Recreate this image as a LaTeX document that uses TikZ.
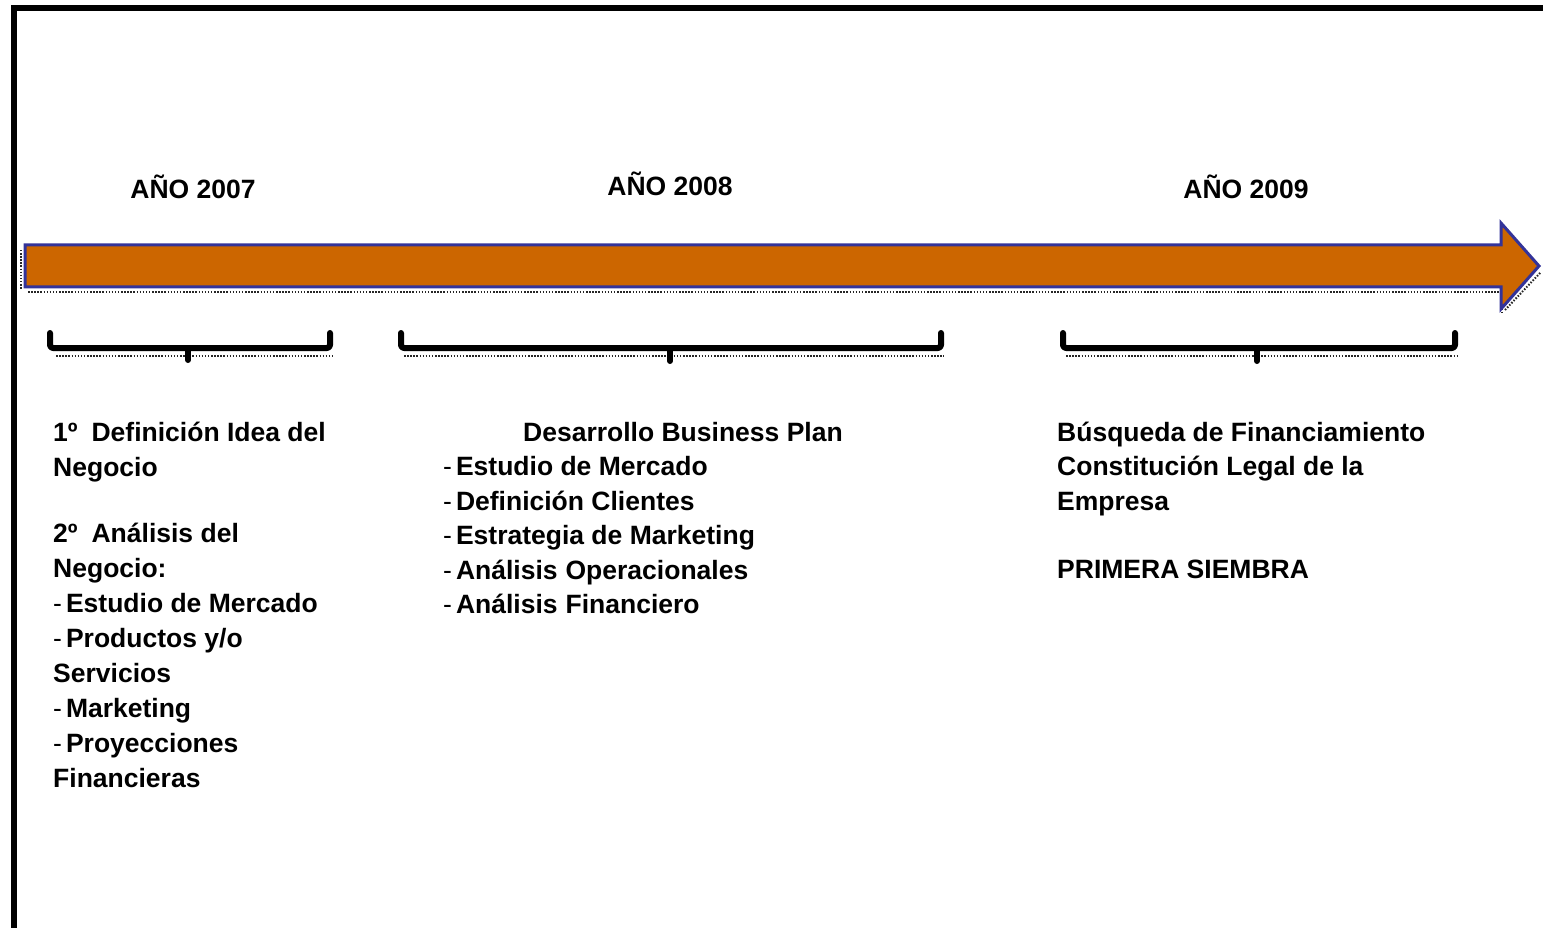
\documentclass[tikz,border=0pt]{standalone}
\usepackage{fontspec}
\setmainfont{Liberation Sans}
\definecolor{arrowfill}{HTML}{CC6600}
\definecolor{arrowline}{HTML}{333399}
\begin{document}
\begin{tikzpicture}[x=1pt,y=-1pt,
  txt/.style={anchor=base west,inner sep=0pt,font=\fontsize{26.5}{34.8}\selectfont\bfseries},
  yr/.style={anchor=base,inner sep=0pt,font=\fontsize{26.5}{34.8}\selectfont\bfseries},
  bracepath/.style={line width=6pt,line cap=round,line join=round,rounded corners=3pt},
  shadowdots/.style={line width=2pt,dash pattern=on 1.5pt off 1.6pt,black!85}]
\useasboundingbox (0,0) rectangle (1543,928);
% frame
\draw[line width=6pt] (13.5,928) -- (13.5,8.5) -- (1543,8.5);
% arrow shadow
\draw[shadowdots] (28,292) -- (1500,292);
\draw[shadowdots] (1502,296) -- (1502,312);
\draw[shadowdots] (1505,310) -- (1541,272);
\draw[shadowdots] (21,250) -- (21,290);
% arrow
\draw[fill=arrowfill,draw=arrowline,line width=3pt,line join=miter]
  (25,245) -- (1501,245) -- (1501,223) -- (1539,266) -- (1501,309) -- (1501,287) -- (25,287) -- cycle;
% years
\node[yr] (y2007) at (193,199) {AÑO 2007};
\node[yr] (y2008) at (670,196) {AÑO 2008};
\node[yr] (y2009) at (1246,199) {AÑO 2009};
% braces shadows
\draw[shadowdots] (56,356) -- (332,356);
\draw[shadowdots] (404,356) -- (944,356);
\draw[shadowdots] (1066,356) -- (1457,356);
% braces
\draw[bracepath] (50,333) -- (50,348) -- (330,348) -- (330,333);
\draw[bracepath] (188,348) -- (188,360);
\draw[bracepath] (401,333) -- (401,348) -- (941,348) -- (941,333);
\draw[bracepath] (670,348) -- (670,361);
\draw[bracepath] (1063,333) -- (1063,348) -- (1455,348) -- (1455,333);
\draw[bracepath] (1257,348) -- (1257,361);
% column 1
\node[txt] (a1) at (53,441) {1º\hspace{14pt}Definición Idea del};
\node[txt] (a2) at (53,476) {Negocio};
\node[txt] (a3) at (53,542) {2º\hspace{14pt}Análisis del};
\node[txt] (a4) at (53,577) {Negocio:};
\node[txt] (a5) at (53,612) {\textmd{-}\hspace{4pt}Estudio de Mercado};
\node[txt] (a6) at (53,647) {\textmd{-}\hspace{4pt}Productos y/o};
\node[txt] (a7) at (53,682) {Servicios};
\node[txt] (a8) at (53,717) {\textmd{-}\hspace{4pt}Marketing};
\node[txt] (a9) at (53,752) {\textmd{-}\hspace{4pt}Proyecciones};
\node[txt] (a10) at (53,787) {Financieras};
% column 2
\node[txt] (b0) at (523,441) {Desarrollo Business Plan};
\node[txt] (b1) at (443,475.5) {\textmd{-}\hspace{4pt}Estudio de Mercado};
\node[txt] (b2) at (443,510) {\textmd{-}\hspace{4pt}Definición Clientes};
\node[txt] (b3) at (443,544.5) {\textmd{-}\hspace{4pt}Estrategia de Marketing};
\node[txt] (b4) at (443,579) {\textmd{-}\hspace{4pt}Análisis\hspace{8pt}Operacionales};
\node[txt] (b5) at (443,613.5) {\textmd{-}\hspace{4pt}Análisis\hspace{8pt}Financiero};
% column 3
\node[txt] (c1) at (1057,441) {Búsqueda de Financiamiento};
\node[txt] (c2) at (1057,475.5) {Constitución Legal de la};
\node[txt] (c3) at (1057,510) {Empresa};
\node[txt] (c4) at (1057,578) {PRIMERA SIEMBRA};
\end{tikzpicture}
\end{document}
